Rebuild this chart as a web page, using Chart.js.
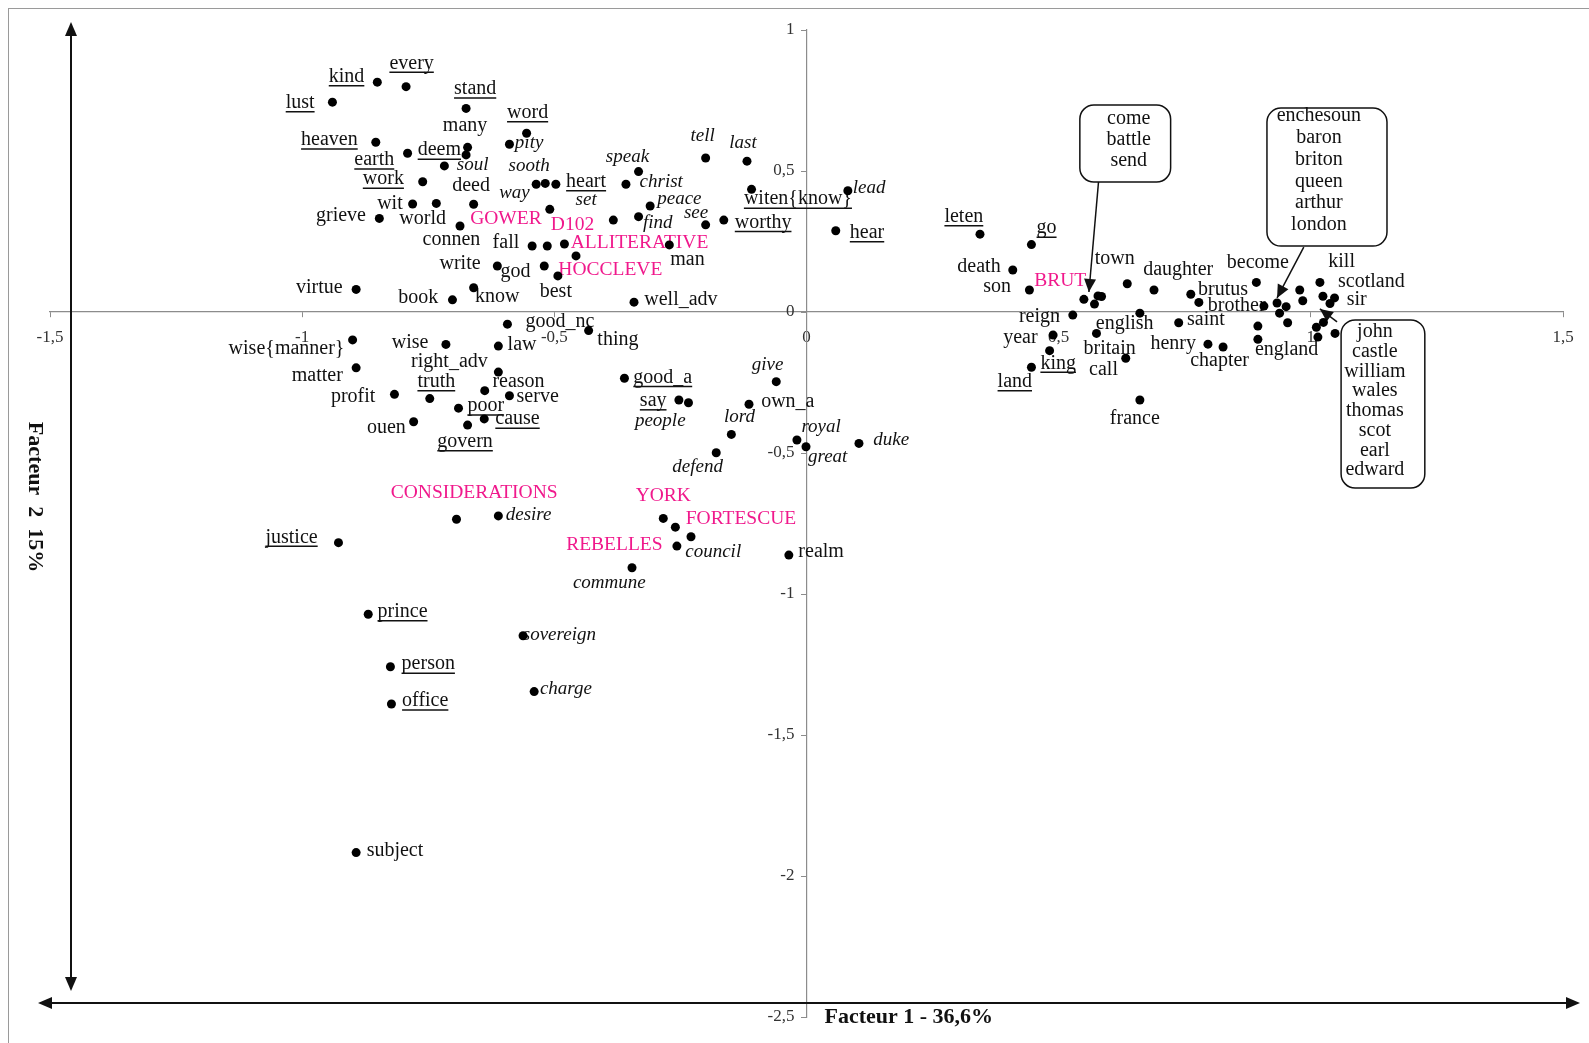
<!DOCTYPE html>
<html>
<head>
<meta charset="utf-8">
<script src="https://cdn.jsdelivr.net/npm/chart.js@4.4.1/dist/chart.umd.min.js"></script>
<style>
  body { margin: 0; background: #fff; }
  canvas { display: block; }
</style>
</head>
<body>
<canvas id="afc" width="1589" height="1043"></canvas>
<script>
// Factor coordinates of every plotted word (Facteur 1 / Facteur 2)
const dotX = [-0.851,-0.794,-0.940,-0.675,-0.555,-0.589,-0.854,-0.791,-0.672,-0.675,-0.718,-0.761,-0.781,-0.734,-0.660,-0.847,-0.687,-0.893,-0.702,-0.660,
  -0.536,-0.518,-0.497,-0.509,-0.358,-0.333,-0.200,-0.118,-0.109,-0.310,-0.383,-0.333,-0.200,-0.164,-0.544,-0.514,-0.480,-0.457,-0.272,-0.613,-0.520,-0.493,-0.342,
  0.058,0.082,0.344,0.446,0.409,0.442,0.550,0.578,0.585,0.571,0.528,0.489,0.482,0.446,0.575,0.636,0.689,0.661,0.762,0.778,0.738,0.796,0.826,0.633,0.661,
  0.892,0.907,0.933,0.938,0.951,0.954,0.895,0.895,0.978,0.984,1.018,1.024,1.047,1.038,1.025,1.011,1.014,1.048,
  -0.900,-0.893,-0.715,-0.611,-0.593,-0.611,-0.747,-0.817,-0.638,-0.589,-0.690,-0.639,-0.779,-0.672,-0.432,-0.361,-0.253,-0.234,-0.060,-0.114,-0.149,-0.179,-0.019,-0.001,0.104,
  -0.284,-0.260,-0.229,-0.257,-0.346,-0.035,-0.694,-0.611,-0.928,-0.869,-0.562,-0.825,-0.540,-0.823,-0.893];
const dotY = [0.815,0.799,0.744,0.722,0.634,0.595,0.602,0.563,0.584,0.557,0.518,0.462,0.383,0.385,0.382,0.332,0.305,0.080,0.043,0.086,
  0.453,0.456,0.453,0.364,0.453,0.498,0.546,0.535,0.435,0.376,0.326,0.338,0.309,0.326,0.234,0.234,0.241,0.199,0.238,0.163,0.163,0.128,0.035,
  0.288,0.430,0.276,0.239,0.149,0.078,0.045,0.057,0.055,0.028,-0.011,-0.082,-0.137,-0.196,-0.076,0.100,0.078,-0.004,0.063,0.034,-0.038,-0.114,-0.124,-0.164,-0.312,
  0.105,0.021,0.032,-0.004,0.019,-0.038,-0.050,-0.097,0.078,0.040,0.105,0.056,0.050,0.030,-0.037,-0.054,-0.089,-0.076,
  -0.099,-0.198,-0.115,-0.121,-0.043,-0.213,-0.307,-0.292,-0.279,-0.297,-0.341,-0.379,-0.389,-0.401,-0.066,-0.235,-0.312,-0.322,-0.247,-0.327,-0.434,-0.499,-0.454,-0.478,-0.466,
  -0.732,-0.763,-0.797,-0.830,-0.907,-0.862,-0.735,-0.723,-0.818,-1.072,-1.148,-1.258,-1.346,-1.390,-1.917];

// word labels, by type (plain / underlined / italic / texts of the corpus)
const plainWords = ['many','deed','wit','grieve','world','connen','fall','man','write','god','virtue','book','know','best','well_adv',
  'death','son','town','daughter','become','brutus','brother','kill','scotland','sir','reign','english','saint','year','britain',
  'henry','england','chapter','call','france','wise{manner}','wise','law','good_nc','thing','right_adv','matter','reason','profit','serve',
  'ouen','own_a','realm','subject'];
const plainX = [-0.677,-0.665,-0.826,-0.923,-0.761,-0.704,-0.596,-0.236,-0.687,-0.577,-0.966,-0.770,-0.613,-0.497,-0.249,
  0.342,0.378,0.611,0.737,0.895,0.826,0.853,1.061,1.120,1.091,0.462,0.631,0.792,0.424,0.601,
  0.727,0.952,0.819,0.589,0.651,-1.031,-0.786,-0.564,-0.489,-0.374,-0.708,-0.970,-0.571,-0.899,-0.533,
  -0.833,-0.037,0.029,-0.816];
const plainY = [0.660,0.447,0.385,0.340,0.332,0.255,0.244,0.187,0.170,0.143,0.086,0.049,0.054,0.072,0.045,
  0.161,0.090,0.190,0.149,0.175,0.080,0.021,0.178,0.107,0.043,-0.017,-0.040,-0.028,-0.093,-0.132,
  -0.111,-0.135,-0.173,-0.206,-0.377,-0.129,-0.109,-0.117,-0.034,-0.099,-0.176,-0.227,-0.247,-0.300,-0.300,
  -0.410,-0.318,-0.850,-1.910];

const underWords = ['every','kind','lust','stand','word','heaven','deem','earth','work','heart','worthy','witen{know}','hear','leten',
  'go','king','land','truth','poor','cause','govern','good_a','say','justice','prince','person','office'];
const underX = [-0.783,-0.912,-1.004,-0.657,-0.553,-0.946,-0.728,-0.857,-0.839,-0.437,-0.086,-0.017,0.120,0.312,
  0.476,0.499,0.413,-0.734,-0.636,-0.573,-0.677,-0.285,-0.304,-1.021,-0.801,-0.750,-0.756];
const underY = [0.882,0.834,0.742,0.791,0.707,0.610,0.574,0.539,0.471,0.462,0.317,0.400,0.281,0.338,
  0.297,-0.182,-0.247,-0.247,-0.333,-0.380,-0.460,-0.232,-0.315,-0.799,-1.063,-1.249,-1.379];

const italicWords = ['pity','soul','sooth','way','set','speak','christ','peace','tell','last','see','find','lead',
  'people','give','lord','royal','great','duke','defend','desire','council','commune','sovereign','charge'];
const italicX = [-0.550,-0.662,-0.550,-0.579,-0.437,-0.355,-0.288,-0.252,-0.206,-0.126,-0.219,-0.295,0.124,
  -0.290,-0.077,-0.133,0.029,0.042,0.168,-0.216,-0.551,-0.185,-0.391,-0.490,-0.477];
const italicY = [0.598,0.521,0.518,0.423,0.397,0.551,0.462,0.400,0.624,0.600,0.352,0.315,0.439,
  -0.385,-0.188,-0.373,-0.407,-0.513,-0.454,-0.549,-0.720,-0.850,-0.962,-1.145,-1.338];

const textNames = ['GOWER','D102','ALLITERATIVE','HOCCLEVE','BRUT','CONSIDERATIONS','YORK','FORTESCUE','REBELLES'];
const textX = [-0.596,-0.464,-0.331,-0.389,0.503,-0.659,-0.284,-0.130,-0.381];
const textY = [0.332,0.309,0.246,0.151,0.110,-0.641,-0.651,-0.732,-0.826];

// words grouped in the three boxes
const boxWords = [
  ['come','battle','send'],
  ['enchesoun','baron','briton','queen','arthur','london'],
  ['john','castle','william','wales','thomas','scot','earl','edward']
];

const xTickLabels = ['-1,5','-1','-0,5','0','0,5','1','1,5'];
const yTickLabels = ['-2,5','-2','-1,5','-1','-0,5','0','0,5','1'];

const serif = '"Liberation Serif", "DejaVu Serif", serif';
const pink = '#f0198c';

// box geometry (factor units) and arrow into the cloud
const boxes = [
  { x1: 0.542, x2: 0.722, y1: 0.734, y2: 0.461, cx: 0.639, top: 0.684, gap: 0.073, a: [0.579, 0.461, 0.560, 0.071] },
  { x1: 0.913, x2: 1.151, y1: 0.723, y2: 0.234, cx: 1.016, top: 0.695, gap: 0.0773, a: [0.986, 0.230, 0.933, 0.050] },
  { x1: 1.060, x2: 1.226, y1: -0.028, y2: -0.624, cx: 1.127, top: -0.070, gap: 0.0701, a: [1.052, -0.035, 1.018, 0.011] }
];

function arrowHead(ctx, x1, y1, x2, y2, len, half) {
  let a = Math.atan2(y2 - y1, x2 - x1);
  let bx = x2 - len * Math.cos(a), by = y2 - len * Math.sin(a);
  ctx.beginPath();
  ctx.moveTo(x2, y2);
  ctx.lineTo(bx + half * Math.sin(a), by - half * Math.cos(a));
  ctx.lineTo(bx - half * Math.sin(a), by + half * Math.cos(a));
  ctx.closePath();
  ctx.fill();
}

function roundRect(ctx, x, y, w, h, r) {
  ctx.beginPath();
  ctx.moveTo(x + r, y);
  ctx.arcTo(x + w, y, x + w, y + h, r);
  ctx.arcTo(x + w, y + h, x, y + h, r);
  ctx.arcTo(x, y + h, x, y, r);
  ctx.arcTo(x, y, x + w, y, r);
  ctx.closePath();
}

function drawWords(ctx, sx, sy, words, xs, ys, font, color, underline) {
  ctx.font = font;
  ctx.fillStyle = color;
  ctx.strokeStyle = color;
  ctx.textAlign = 'center';
  ctx.textBaseline = 'middle';
  words.forEach((w, i) => {
    let px = sx.getPixelForValue(xs[i]);
    let py = sy.getPixelForValue(ys[i]);
    ctx.fillText(w, px, py);
    if (underline) {
      let half = ctx.measureText(w).width / 2;
      ctx.lineWidth = 1.5;
      ctx.beginPath();
      ctx.moveTo(px - half, py + 9);
      ctx.lineTo(px + half, py + 9);
      ctx.stroke();
    }
  });
}

// labels under the dots
const labelPlugin = {
  id: 'labels',
  beforeDatasetsDraw(chart) {
    let ctx = chart.ctx, sx = chart.scales.x, sy = chart.scales.y;
    ctx.save();
    drawWords(ctx, sx, sy, plainWords, plainX, plainY, '20px ' + serif, '#111', false);
    drawWords(ctx, sx, sy, underWords, underX, underY, '20px ' + serif, '#111', true);
    drawWords(ctx, sx, sy, italicWords, italicX, italicY, 'italic 19px ' + serif, '#111', false);
    drawWords(ctx, sx, sy, textNames, textX, textY, '19.5px ' + serif, pink, false);

    // boxes with grouped words
    boxes.forEach((b, k) => {
      let x1 = sx.getPixelForValue(b.x1), x2 = sx.getPixelForValue(b.x2);
      let y1 = sy.getPixelForValue(b.y1), y2 = sy.getPixelForValue(b.y2);
      ctx.fillStyle = '#fff';
      ctx.strokeStyle = '#111';
      ctx.lineWidth = 1.5;
      roundRect(ctx, x1, y1, x2 - x1, y2 - y1, 14);
      ctx.fill();
      ctx.stroke();
      ctx.fillStyle = '#111';
      ctx.font = '20px ' + serif;
      boxWords[k].forEach((w, i) => {
        ctx.fillText(w, sx.getPixelForValue(b.cx), sy.getPixelForValue(b.top - i * b.gap));
      });
      let ax1 = sx.getPixelForValue(b.a[0]), ay1 = sy.getPixelForValue(b.a[1]);
      let ax2 = sx.getPixelForValue(b.a[2]), ay2 = sy.getPixelForValue(b.a[3]);
      ctx.beginPath();
      ctx.moveTo(ax1, ay1);
      ctx.lineTo(ax2, ay2);
      ctx.stroke();
      arrowHead(ctx, ax1, ay1, ax2, ay2, 13, 6);
    });
    ctx.restore();
  },
  afterDraw(chart) {
    let ctx = chart.ctx, a = chart.chartArea, sy = chart.scales.y;
    ctx.save();

    // y tick labels, set off to the left of the central axis
    let axisX = chart.scales.x.getPixelForValue(0);
    ctx.font = '17px ' + serif;
    ctx.fillStyle = '#333';
    ctx.textAlign = 'right';
    ctx.textBaseline = 'middle';
    sy.ticks.forEach((t, i) => {
      ctx.fillText(yTickLabels[i], axisX - 12, sy.getPixelForValue(t.value));
    });

    // outer frame
    ctx.strokeStyle = '#9a9a9a';
    ctx.lineWidth = 1;
    ctx.strokeRect(8.5, 8.5, chart.width - 5, chart.height - 4);

    // the two black double arrows
    ctx.strokeStyle = '#111';
    ctx.fillStyle = '#111';
    ctx.lineWidth = 2;
    let vx = a.left + 21, vy1 = a.top - 8, vy2 = a.bottom - 26;
    ctx.beginPath(); ctx.moveTo(vx, vy1 + 8); ctx.lineTo(vx, vy2 - 8); ctx.stroke();
    arrowHead(ctx, vx, vy2, vx, vy1, 14, 6);
    arrowHead(ctx, vx, vy1, vx, vy2, 14, 6);
    let hy = a.bottom - 14, hx1 = a.left - 12, hx2 = a.right + 17;
    ctx.beginPath(); ctx.moveTo(hx1 + 8, hy); ctx.lineTo(hx2 - 8, hy); ctx.stroke();
    arrowHead(ctx, hx2, hy, hx1, hy, 14, 6);
    arrowHead(ctx, hx1, hy, hx2, hy, 14, 6);

    // axis titles
    ctx.font = 'bold 22px ' + serif;
    ctx.textAlign = 'left';
    ctx.textBaseline = 'middle';
    ctx.fillText('Facteur 1 - 36,6%', axisX + 18, a.bottom);
    ctx.translate(35, 497);
    ctx.rotate(Math.PI / 2);
    ctx.textAlign = 'center';
    ctx.fillText('Facteur  2  15%', 0, 0);
    ctx.restore();
  }
};

let ctx = document.getElementById('afc').getContext('2d');

let afcChart = new Chart(ctx, {
  type: 'scatter',
  data: {
    datasets: [{
      data: dotX.map((x, i) => ({ x: x, y: dotY[i] })),
      backgroundColor: '#000',
      borderWidth: 0,
      pointRadius: 4.5,
      pointHoverRadius: 4.5
    }]
  },
  options: {
    responsive: false,
    animation: false,
    events: [],
    layout: { padding: { left: 50, right: 26, top: 30, bottom: 26 } },
    plugins: { legend: { display: false }, tooltip: { enabled: false } },
    scales: {
      x: {
        type: 'linear',
        min: -1.5,
        max: 1.5,
        position: { y: 0 },
        afterFit: (s) => { s.height = 0; },
        border: { color: '#8c8c8c', width: 1.2 },
        grid: { drawOnChartArea: false, tickLength: 5, color: '#8c8c8c' },
        ticks: {
          stepSize: 0.5,
          autoSkip: false,
          maxRotation: 0,
          padding: 10,
          color: '#333',
          font: { family: serif, size: 17 },
          callback: (v, i) => xTickLabels[i]
        }
      },
      y: {
        type: 'linear',
        min: -2.5,
        max: 1,
        position: { x: 0 },
        afterFit: (s) => { s.width = 0; },
        border: { color: '#8c8c8c', width: 1.2 },
        grid: { drawOnChartArea: false, tickLength: 5, color: '#8c8c8c' },
        ticks: { stepSize: 0.5, autoSkip: false, display: false }
      }
    }
  },
  plugins: [labelPlugin]
});
</script>
</body>
</html>
